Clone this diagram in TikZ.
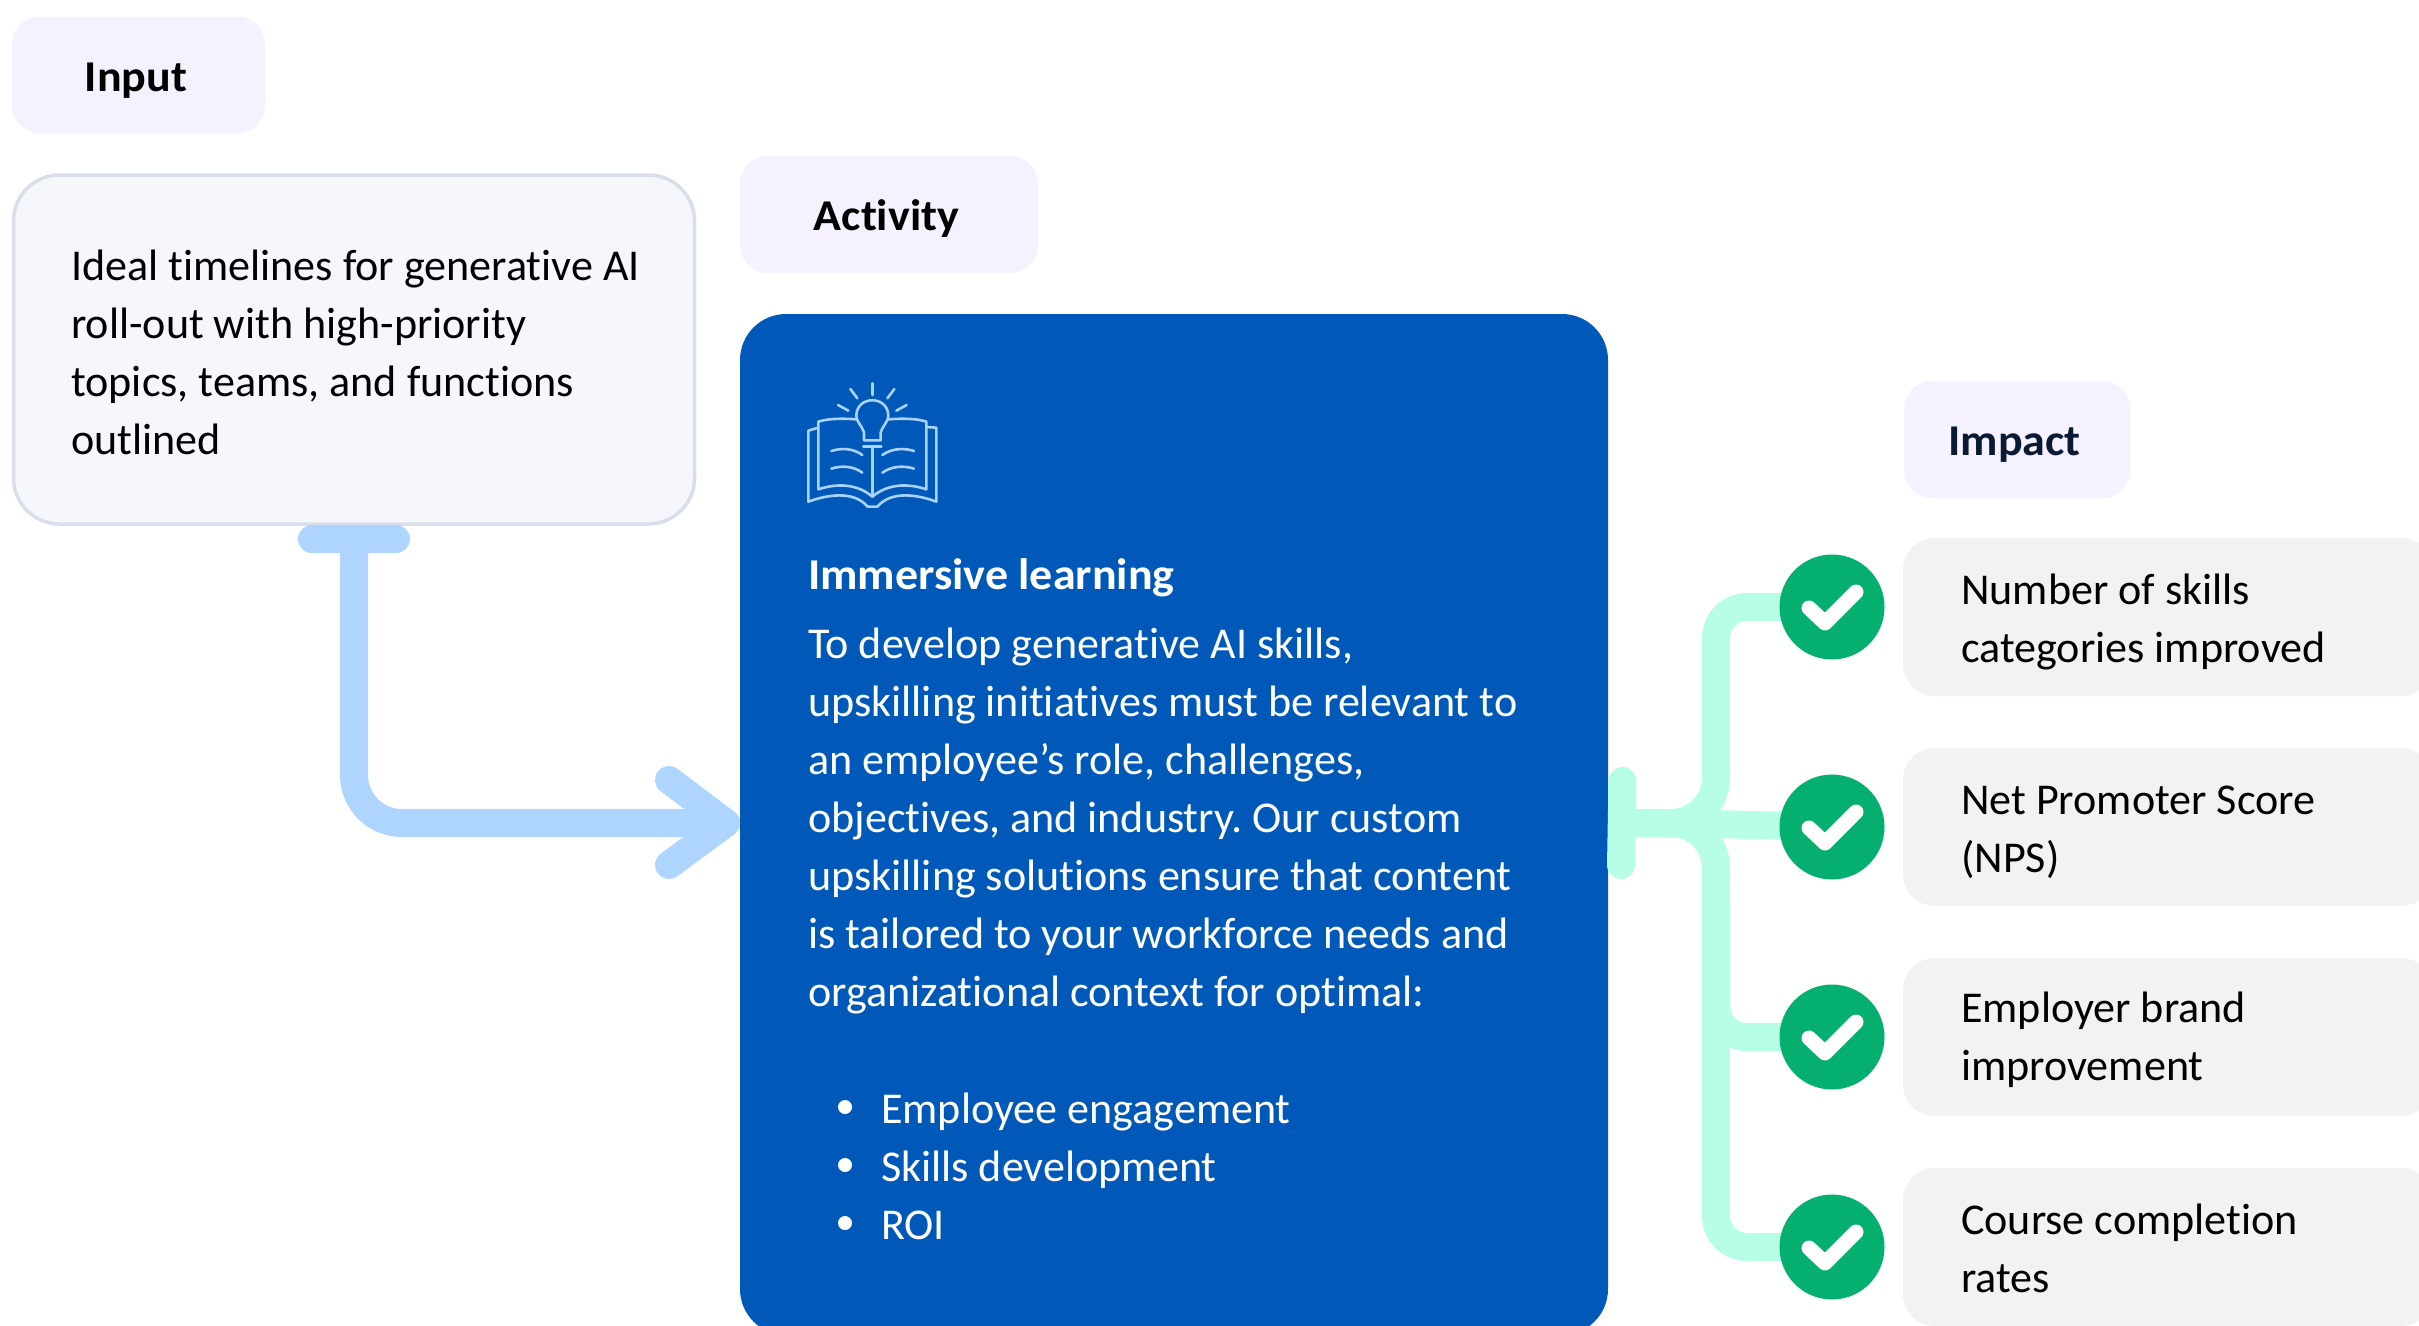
\documentclass[tikz,border=0pt]{standalone}
\usepackage{fontspec}
\usetikzlibrary{backgrounds}
\setmainfont[FakeStretch=1.002,Ligatures=NoCommon,BoldFeatures={FakeStretch=1.045}]{Carlito}
\frenchspacing
\definecolor{tagfill}{HTML}{F6F1FE}
\definecolor{inputfill}{HTML}{F5F7FC}
\definecolor{inputedge}{HTML}{D8DFEB}
\definecolor{actblue}{HTML}{0059B8}
\definecolor{skyline}{HTML}{ADD5FF}
\definecolor{mintline}{HTML}{B6FFE6}
\definecolor{okgreen}{HTML}{04AF70}
\definecolor{grayfill}{HTML}{F2F2F2}
\definecolor{iconline}{HTML}{A9D2FF}
\definecolor{navytext}{HTML}{0A1A33}
\tikzset{
  tagbox/.style={rectangle,fill=tagfill,rounded corners=28pt,inner sep=0pt,minimum height=117pt,text height=40pt,text depth=8pt,font=\fontsize{44}{58}\selectfont\bfseries,text=black},
  metricbox/.style={rectangle,fill=grayfill,rounded corners=32pt,inner sep=0pt,minimum width=530pt,minimum height=158pt},
  bodytext/.style={anchor=north west,inner sep=0pt,yshift=40pt,align=left,font=\fontsize{44}{58}\selectfont,text=#1},
  bodytext/.default=black,
  skypipe/.style={draw=skyline,line width=28pt,line cap=round,line join=round},
  mintpipe/.style={draw=mintline,line width=28pt},
  checkdisc/.style={circle,fill=okgreen,minimum size=105pt,inner sep=0pt},
  tick/.style={draw=white,line width=15pt,line cap=round,line join=round},
  iconstroke/.style={draw=iconline,line width=2.6pt,line cap=round,line join=round},
}
\newcommand{\fl}{\rule{0pt}{40pt}}
\begin{document}
\begin{tikzpicture}[x=1pt,y=-1pt]
\clip (0,0) rectangle (2419,1325);
% boxes
\node[tagbox,minimum width=253pt] (inputtag) at (138.5,75) {\hspace*{-5pt}Input};
\node[tagbox,minimum width=298pt] (activitytag) at (889,214.5) {\hspace*{-5pt}Activity};
\node[tagbox,minimum width=226pt,text=navytext] (impacttag) at (2017,439.5) {\hspace*{-5pt}Impact};
\node[rectangle,draw=inputedge,line width=3.5pt,fill=inputfill,rounded corners=46pt,minimum width=681pt,minimum height=349pt,inner sep=0pt] (inputbox) at (354,349.5) {};
\node[rectangle,fill=actblue,rounded corners=46pt,minimum width=868pt,minimum height=1021pt,inner sep=0pt] (activitybox) at (1174,824.5) {};
\node[metricbox] (m1) at (2168,617) {};
\node[metricbox] (m2) at (2168,827) {};
\node[metricbox] (m3) at (2168,1037) {};
\node[metricbox] (m4) at (2168,1247) {};
% discs
\node[checkdisc] (c1) at (1832,607) {};
\node[checkdisc] (c2) at (1832,827) {};
\node[checkdisc] (c3) at (1832,1037) {};
\node[checkdisc] (c4) at (1832,1247) {};
% blue connector
\coordinate (teeL) at (312,539);
\coordinate (teeR) at (396,539);
\coordinate (teeM) at (354,539);
\coordinate (tipP) at (726,823);
\coordinate (headA) at (669,780);
\coordinate (headB) at (669,865);
\draw[skypipe] (teeL) -- (teeR);
\draw[skypipe,rounded corners=48pt] (teeM) |- (tipP);
\draw[skypipe] (headA) -- (tipP) -- (headB);
% mint connector
\coordinate (barT) at (1622.5,781);
\coordinate (barB) at (1621,865);
\coordinate (bend) at (1716,823);
\coordinate (joinS) at (1622,823);
\coordinate (turnA) at (1716,607);
\coordinate (turnC) at (1716,1037);
\coordinate (turnD) at (1716,1247);
\coordinate (spine) at (1716,900);
\begin{scope}[on background layer]
\draw[mintpipe] (joinS) -- (1672,823) -- (c2.center);
\draw[mintpipe,rounded corners=45pt] (joinS) -- (bend) [rounded corners=31pt] -- (turnA) -- (c1.center);
\draw[mintpipe,rounded corners=45pt] (joinS) -- (bend) [rounded corners=31pt] -- (turnD) -- (c4.center);
\draw[mintpipe,rounded corners=31pt] (spine) -- (turnC) -- (c3.center);
\end{scope}
\draw[mintpipe,line cap=round] (barT) -- (barB);
\foreach \n in {c1,c2,c3,c4}{
  \draw[tick] ([shift={(-23,1)}]\n.center) -- ([shift={(-7,16)}]\n.center) -- ([shift={(24,-15)}]\n.center);
}
% icon
\begin{scope}[shift={(760,360)},x=0.3333pt,y=-0.3333pt]
\draw[iconstroke] (337,70)--(337,105);
\draw[iconstroke] (271,87)--(292,115);
\draw[iconstroke] (403,87)--(382,115);
\draw[iconstroke] (234,135)--(265,152);
\draw[iconstroke] (440,135)--(409,152);
\draw[iconstroke] (312,241) -- (312,218) .. controls (305,195) and (289,185) .. (289,168) .. controls (289,105) and (385,105) .. (385,168) .. controls (385,185) and (369,195) .. (362,218) -- (362,241) -- cycle;
\draw[iconstroke] (310,260)--(364,260);
\draw[iconstroke] (337,262)--(337,410);
\draw[iconstroke] (289,178) .. controls (250,175) and (205,175) .. (175,185) -- (175,388) .. controls (230,370) and (290,370) .. (337,410) .. controls (385,370) and (445,370) .. (499,388) -- (499,185) .. controls (470,175) and (425,175) .. (385,178);
\draw[iconstroke] (175,203) -- (145,212) -- (145,425) .. controls (200,405) and (280,390) .. (323,440) -- (352,440) .. controls (395,390) and (475,405) .. (529,425) -- (529,203) -- (499,201);
\draw[iconstroke] (214,273) .. controls (245,263) and (280,265) .. (307,285);
\draw[iconstroke] (214,326) .. controls (245,316) and (280,318) .. (307,338);
\draw[iconstroke] (462,273) .. controls (431,263) and (396,265) .. (367,285);
\draw[iconstroke] (462,326) .. controls (431,316) and (396,318) .. (367,338);
\end{scope}
% texts
\node[bodytext] (inputtext) at (71,280) {\fl Ideal timelines for generative AI\\roll-out with high-priority\\topics, teams, and functions\\outlined};
\node[bodytext=white] (acthead) at (808,589) {\fl\bfseries Immersive learning};
\node[bodytext=white] (actpara) at (808,658) {\fl To develop generative AI skills,\\upskilling initiatives must be relevant to\\an employee’s role, challenges,\\objectives, and industry. Our custom\\upskilling solutions ensure that content\\is tailored to your workforce needs and\\organizational context for optimal:};
\node[bodytext=white] (actlist) at (881,1123) {\fl Employee engagement\\Skills development\\ROI};
\fill[white] (845,1107) circle (7pt) (845,1165) circle (7pt) (845,1223) circle (7pt);
\node[bodytext] (t1) at (1961,604) {\fl Number of skills\\categories improved};
\node[bodytext] (t2) at (1961,814) {\fl Net Promoter Score\\(NPS)};
\node[bodytext] (t3) at (1961,1022) {\fl Employer brand\\improvement};
\node[bodytext] (t4) at (1961,1234) {\fl Course completion\\rates};
\end{tikzpicture}
\end{document}
